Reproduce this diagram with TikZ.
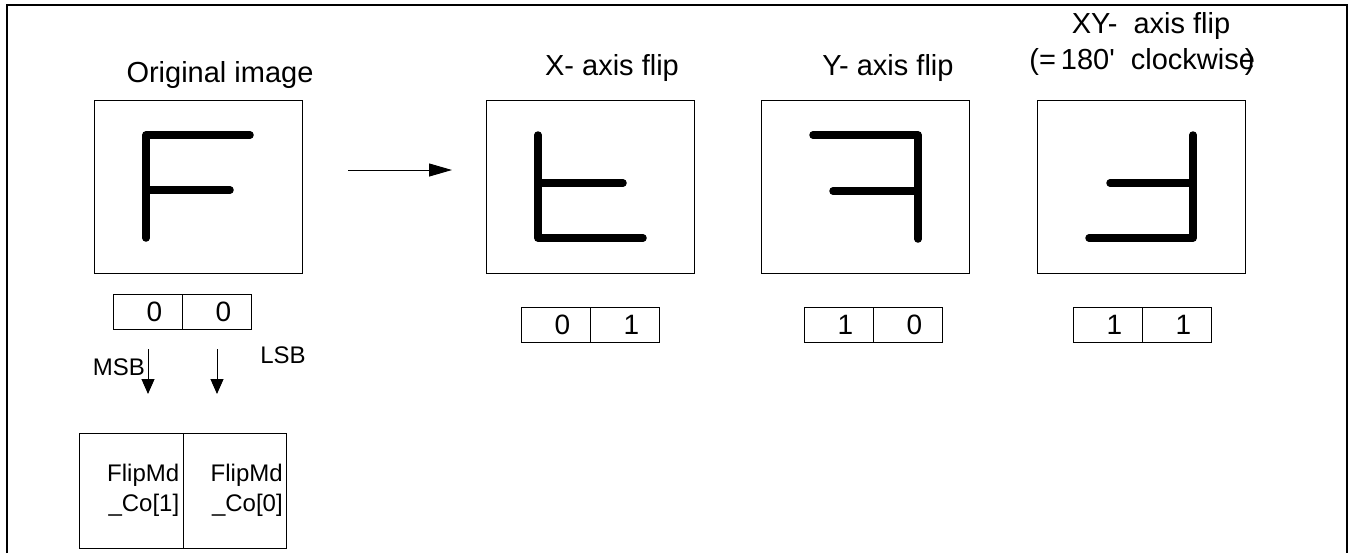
\documentclass[tikz,border=0pt]{standalone}
\usepackage{fontspec}
\setmainfont{Liberation Sans}
\usetikzlibrary{arrows.meta,positioning}
\tikzset{imgbox/.style={draw,line width=0.5pt,minimum width=104pt,minimum height=86.5pt,inner sep=0pt},
 bitcell/.style={draw,line width=0.5pt,minimum width=34.5pt,minimum height=17.5pt,inner sep=0pt,outer sep=0pt,
 font=\fontsize{14}{16}\selectfont},
 regcell/.style={draw,line width=0.5pt,minimum width=51.75pt,minimum height=57.5pt,inner xsep=2pt,inner ysep=0pt,
 outer sep=0pt,text width=47.75pt,align=right,font=\fontsize{12}{15}\selectfont},
 ttl/.style={anchor=base,inner sep=0pt,font=\fontsize{14.5}{17}\selectfont},
 tag/.style={anchor=base,inner sep=0pt,font=\fontsize{12}{14}\selectfont},
 glyph/.style={line width=3.75pt,line cap=round,line join=round},
 arr/.style={-{Triangle[length=11.5pt,width=6.5pt]},line width=0.5pt},
 bitarr/.style={-{Triangle[length=7.5pt,width=6.5pt]},line width=0.5pt}}

\begin{document}
\begin{tikzpicture}[x=0.5pt,y=-0.5pt]
\useasboundingbox (0,0) rectangle (1355,553);
\draw[line width=1pt] (7,553) |- (1347,5) -- (1347,553);
\node[imgbox] (orig) at (198,186.5) {};
\node[imgbox] (xflip) at (590,186.5) {};
\node[imgbox] (yflip) at (865.5,187) {};
\node[imgbox] (xyflip) at (1141,187) {};
\node[ttl] (origttl) at (220,82) {Original image};
\node[ttl] (xttl) at (612,75) {X- axis flip};
\node[ttl] (yttl) at (888,75) {Y- axis flip};
\node[ttl] (xyttl) at (1151,33) {XY-\ \ axis flip};
\node[ttl] (xynote) at (1142,69) {(=\,180\textquotesingle\ \ clockwise\kern-0.35em)};
\draw[glyph] (146,238) -- (146,135) -- (250,135) (146,190) -- (230,190);
\draw[glyph] (538,135) -- (538,238) -- (643,238) (538,183) -- (623,183);
\draw[glyph] (813,135) -- (918,135) -- (918,239) (833,191) -- (918,191);
\draw[glyph] (1193,135) -- (1193,238) -- (1089,238) (1110,183) -- (1193,183);
\coordinate (flipfrom) at (348,170);
\coordinate (flipto) at (452,170);
\draw[arr] (flipfrom) -- (flipto);
\node[bitcell] (origmsb) at (147.5,312) {\hspace*{7pt}0};
\node[bitcell,right=0pt of origmsb] (origlsb) {\hspace*{7pt}0};
\node[bitcell] (xmsb) at (555.5,324.5) {\hspace*{7pt}0};
\node[bitcell,right=0pt of xmsb] (xlsb) {\hspace*{7pt}1};
\node[bitcell] (ymsb) at (838.5,324.5) {\hspace*{7pt}1};
\node[bitcell,right=0pt of ymsb] (ylsb) {\hspace*{7pt}0};
\node[bitcell] (xymsb) at (1107.5,324.5) {\hspace*{7pt}1};
\node[bitcell,right=0pt of xymsb] (xylsb) {\hspace*{7pt}1};
\node[regcell] (regmsb) at (131.5,490.5) {FlipMd\\\_Co[1]};
\node[regcell,right=0pt of regmsb] (reglsb) {FlipMd\\\_Co[0]};
\coordinate (msbfrom) at (148,349);
\coordinate (msbto) at (148,394);
\coordinate (lsbfrom) at (217,349);
\coordinate (lsbto) at (217,394);
\draw[bitarr] (msbfrom) -- (msbto);
\draw[bitarr] (lsbfrom) -- (lsbto);
\node[tag] (msbtag) at (119,375) {MSB};
\node[tag] (lsbtag) at (283,363) {LSB};
\end{tikzpicture}
\end{document}
